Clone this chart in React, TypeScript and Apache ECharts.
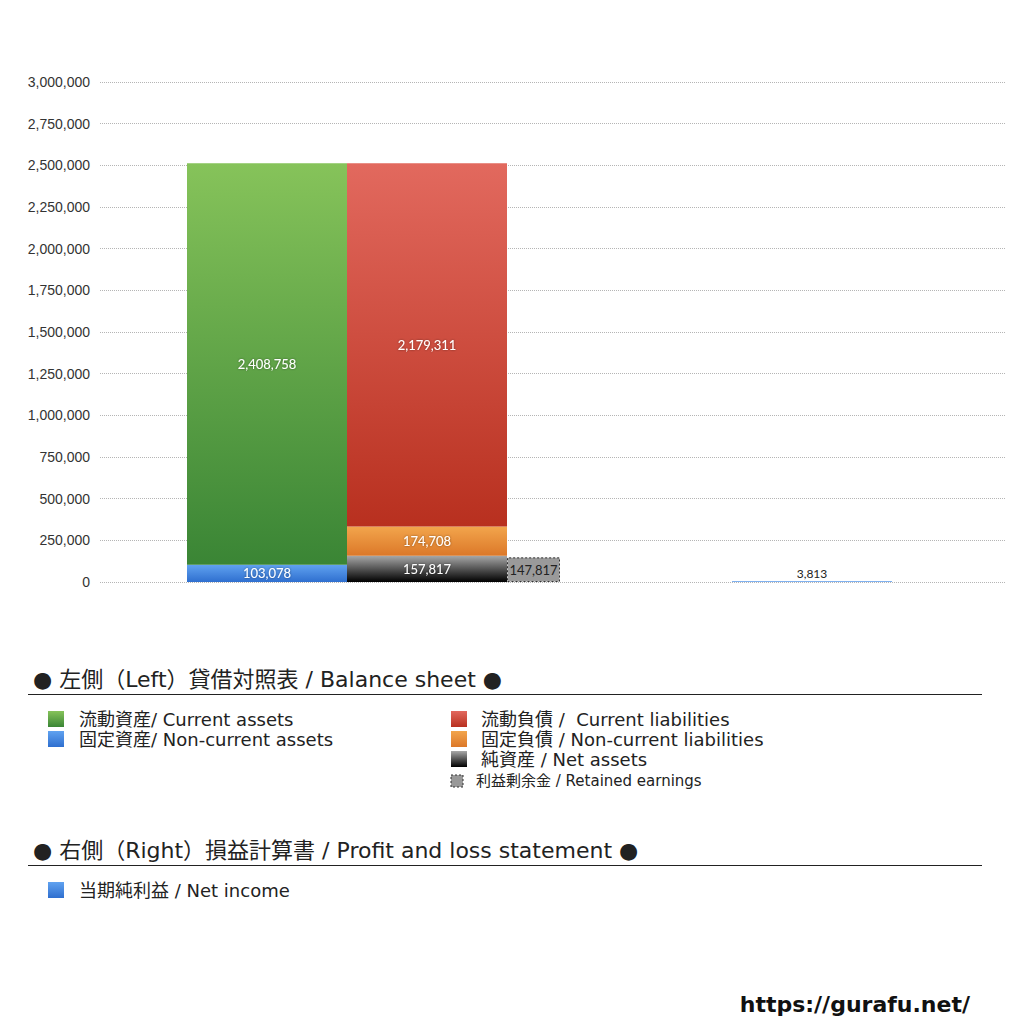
import { useEffect, useRef } from 'react'
import * as echarts from 'echarts'

const leftCategory = ['左側']
const rightCategory = ['右側']

const nonCurrentAssets = [103078]
const currentAssets = [2408758]
const netAssets = [157817]
const nonCurrentLiabilities = [174708]
const currentLiabilities = [2179311]
const retainedEarnings = [147817]
const netIncome = [3813]

const leftLegend = ['流動資産/ Current assets', '固定資産/ Non-current assets']
const rightLegend = ['流動負債 /  Current liabilities', '固定負債 / Non-current liabilities', '純資産 / Net assets']
const retainedLegend = '利益剰余金 / Retained earnings'
const plLegend = ['当期純利益 / Net income']
const leftTitle = '● 左側（Left）貸借対照表 / Balance sheet ●'
const rightTitle = '● 右側（Right）損益計算書 / Profit and loss statement ●'
const siteUrl = 'https://gurafu.net/'

const JP = '"DejaVu Sans", "Noto Sans CJK JP", sans-serif'

const grad = (top: string, bottom: string) =>
  new echarts.graphic.LinearGradient(0, 0, 0, 1, [
    { offset: 0, color: top },
    { offset: 1, color: bottom }
  ])

const green = () => grad('#86c35a', '#3a8535')
const blue = () => grad('#60a2f0', '#2f6fcf')
const red = () => grad('#e2695e', '#b8301f')
const orange = () => grad('#f2a54c', '#dc7829')
const black = () => grad('#a8a8a8', '#000000')

const fmt = (p: any) => Number(p.value).toLocaleString('en-US')

const innerLabel = {
  show: true,
  position: 'inside',
  formatter: fmt,
  color: '#fff',
  fontSize: 13,
  fontFamily: 'Lato, sans-serif',
  textShadowColor: 'rgba(0,0,0,0.45)',
  textShadowBlur: 2
}

export default function App() {
  const chartRef = useRef<HTMLDivElement>(null)

  useEffect(() => {
    if (!chartRef.current) return
    const chart = echarts.init(chartRef.current, null, { renderer: 'svg' })

    const legendRow = (x: number, y: number, fill: any, text: string, size = 16, fontSize = 18, gap = 15) => ({
      type: 'group',
      children: [
        { type: 'rect', shape: { x, y: y - size / 2, width: size, height: size }, style: { fill } },
        {
          type: 'text',
          x: x + size + gap,
          y,
          style: { text, fontSize, lineHeight: 18, fontFamily: JP, fill: '#222', verticalAlign: 'middle' }
        }
      ]
    })

    const graphics: any[] = [
      { type: 'text', x: 33, y: 679, style: { text: leftTitle, fontSize: 22, fontFamily: JP, fill: '#222', verticalAlign: 'middle' } },
      { type: 'line', shape: { x1: 28, y1: 694.5, x2: 982, y2: 694.5 }, style: { stroke: '#222', lineWidth: 1 } },
      ...leftLegend.map((t, i) => legendRow(48, 719 + i * 20, i === 0 ? green() : blue(), t)),
      ...rightLegend.map((t, i) => legendRow(451, 719 + i * 20, [red(), orange(), black()][i], t, 16, 18, 14)),
      {
        type: 'group',
        children: [
          {
            type: 'rect',
            shape: { x: 451, y: 775, width: 12, height: 12 },
            style: { fill: '#999', stroke: '#333', lineWidth: 1, lineDash: [2, 2] }
          },
          { type: 'text', x: 476, y: 781, style: { text: retainedLegend, fontSize: 15, lineHeight: 14, fontFamily: JP, fill: '#222', verticalAlign: 'middle' } }
        ]
      },
      { type: 'text', x: 33, y: 850, style: { text: rightTitle, fontSize: 22, fontFamily: JP, fill: '#222', verticalAlign: 'middle' } },
      { type: 'line', shape: { x1: 28, y1: 865.5, x2: 982, y2: 865.5 }, style: { stroke: '#222', lineWidth: 1 } },
      ...plLegend.map((t, i) => legendRow(48, 890 + i * 20, blue(), t)),
      {
        type: 'text',
        x: 970,
        y: 1004,
        style: { text: siteUrl, fontSize: 22, fontWeight: 'bold', fontFamily: '"DejaVu Sans", sans-serif', fill: '#111', align: 'right', verticalAlign: 'middle' }
      }
    ]

    const hiddenY = (gridIndex: number) => ({ type: 'value', gridIndex, min: 0, max: 3000000, interval: 250000, show: false })

    chart.setOption({
      animation: false,
      backgroundColor: '#fff',
      grid: [
        { left: 100, right: 18, top: 82, height: 500 },
        { left: 100, width: 547, top: 82, height: 500 },
        { left: 618, right: 18, top: 82, height: 500 }
      ],
      xAxis: [
        { type: 'category', gridIndex: 0, data: leftCategory, show: false },
        { type: 'category', gridIndex: 1, data: leftCategory, show: false },
        { type: 'category', gridIndex: 2, data: rightCategory, show: false }
      ],
      yAxis: [
        {
          type: 'value',
          gridIndex: 0,
          min: 0,
          max: 3000000,
          interval: 250000,
          axisLine: { show: false },
          axisTick: { show: false },
          axisLabel: {
            formatter: (v: number) => v.toLocaleString('en-US'),
            fontSize: 14,
            color: '#333',
            margin: 10,
            fontFamily: '"Liberation Sans", Arial, sans-serif'
          },
          splitLine: { lineStyle: { type: 'dotted', color: '#b5b5b5', width: 1 } }
        },
        hiddenY(1),
        hiddenY(2)
      ],
      graphic: graphics,
      series: [
        {
          type: 'bar', xAxisIndex: 1, yAxisIndex: 1, stack: 'assets', barWidth: 160, barGap: '0%',
          data: nonCurrentAssets, itemStyle: { color: blue() }, label: innerLabel
        },
        {
          type: 'bar', xAxisIndex: 1, yAxisIndex: 1, stack: 'assets', barWidth: 160, barGap: '0%',
          data: currentAssets, itemStyle: { color: green() }, label: innerLabel
        },
        {
          type: 'bar', xAxisIndex: 1, yAxisIndex: 1, stack: 'liab', barWidth: 160, barGap: '0%',
          data: netAssets, itemStyle: { color: black() }, label: innerLabel
        },
        {
          type: 'bar', xAxisIndex: 1, yAxisIndex: 1, stack: 'liab', barWidth: 160, barGap: '0%',
          data: nonCurrentLiabilities, itemStyle: { color: orange() }, label: innerLabel
        },
        {
          type: 'bar', xAxisIndex: 1, yAxisIndex: 1, stack: 'liab', barWidth: 160, barGap: '0%',
          data: currentLiabilities, itemStyle: { color: red() }, label: innerLabel
        },
        {
          type: 'bar', xAxisIndex: 1, yAxisIndex: 1, stack: 're', barWidth: 53, barGap: '0%',
          data: retainedEarnings,
          itemStyle: { color: '#9a9a9a', borderColor: '#333', borderWidth: 1, borderType: [2, 2] },
          label: { ...innerLabel, color: '#222', textShadowBlur: 0, textShadowColor: 'transparent' }
        },
        {
          type: 'bar', xAxisIndex: 2, yAxisIndex: 2, barWidth: 160,
          data: netIncome, itemStyle: { color: blue() },
          label: { show: true, position: 'top', distance: 2, formatter: fmt, color: '#222', fontSize: 12, fontFamily: 'Lato, sans-serif' }
        }
      ]
    })

    return () => {
      chart.dispose()
    }
  }, [])

  return <div ref={chartRef} style={{ position: 'fixed', left: 0, top: 0, width: 1024, height: 1024 }} />
}
